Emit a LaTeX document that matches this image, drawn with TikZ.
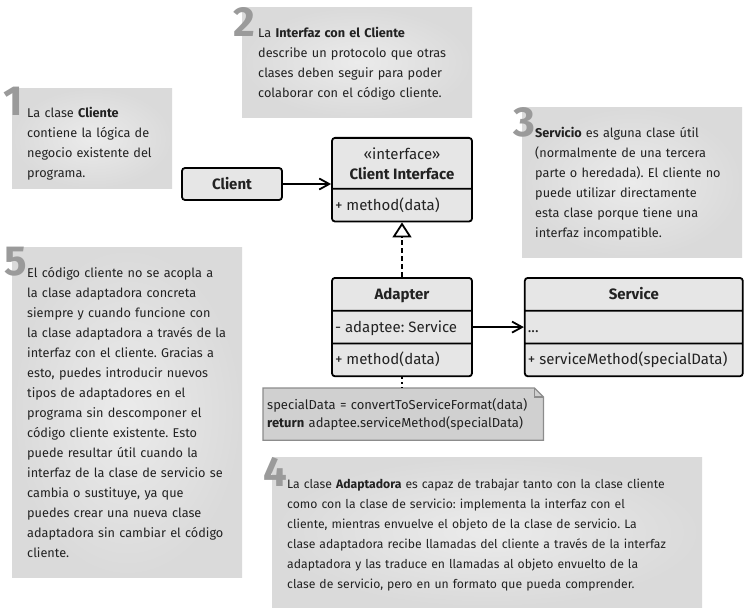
\documentclass[tikz,border=0pt]{standalone}
\usepackage{fontspec}
\setmainfont{Fira Sans}
\usetikzlibrary{positioning,shapes.multipart,arrows.meta,calc,backgrounds}
\frenchspacing

\definecolor{notelight}{HTML}{EBEBEB}
\definecolor{notedark}{HTML}{DADADA}
\definecolor{umlgray}{HTML}{E6E6E6}
\definecolor{codegray}{HTML}{D0D0D0}
\definecolor{codeedge}{HTML}{8C8C8C}
\definecolor{numgray}{HTML}{9A9A9A}
\definecolor{inkgray}{HTML}{222222}

\newcommand\notefont{\fontsize{12.7}{20}\selectfont}
\newcommand\umlfont{\fontsize{15}{20}\selectfont}
\newcommand\codefont{\fontsize{13}{18}\selectfont}
\newcommand\numfont{\fontsize{42}{42}\selectfont\bfseries}
\newcommand\ustrut{\rule[-10.5pt]{0pt}{31pt}}

\begin{document}
\begin{tikzpicture}[x=1pt, y=-1pt, text=inkgray,
    note/.style={shade, shading=radial, inner color=notelight, outer color=notedark,
                 align=left, anchor=north west, inner xsep=15pt, inner ysep=0pt, font=\notefont},
    num/.style={text=numgray, font=\numfont, anchor=north west, inner sep=0pt},
    umlclass/.style={rectangle split, draw=black, line width=1.8pt, rounded corners=3pt,
                     fill=umlgray, font=\umlfont, inner xsep=3pt, inner ysep=0pt},
    assoc/.style={line width=1.8pt, -{Straight Barb[length=10pt,width=11pt]}},
    realize/.style={line width=1.8pt, dash pattern=on 5pt off 3pt,
                    -{Triangle[length=15pt,width=19pt,fill=white,line width=1.8pt]}}]

  \useasboundingbox (0,0) rectangle (746,612);

  % notes
  \node[note, text width=130pt, minimum height=100pt] (note1) at (12,88)
    {\rule{0pt}{21pt}La clase \textbf{Cliente}\\contiene la lógica de\\negocio existente del\\programa.};
  \node[note, inner xsep=16pt, text width=198pt, minimum height=110pt] (note2) at (242,7)
    {\rule{0pt}{13pt}La \textbf{Interfaz con el Cliente}\\describe un protocolo que otras\\clases deben seguir para poder\\colaborar con el código cliente.};
  \node[note, inner xsep=13pt, text width=194pt, minimum height=150pt] (note3) at (522,107)
    {\rule{0pt}{13pt}\textbf{Servicio} es alguna clase útil\\(normalmente de una tercera\\parte o heredada). El cliente no\\puede utilizar directamente\\esta clase porque tiene una\\interfaz incompatible.};
  \node[note, font=\fontsize{12.2}{20}\selectfont, text width=400pt, minimum height=150pt] (note4) at (272,457)
    {\rule{0pt}{15pt}La clase \textbf{Adaptadora} es capaz de trabajar tanto con la clase cliente\\como con la clase de servicio: implementa la interfaz con el\\cliente, mientras envuelve el objeto de la clase de servicio. La\\clase adaptadora recibe llamadas del cliente a través de la interfaz\\adaptadora y las traduce en llamadas al objeto envuelto de la\\clase de servicio, pero en un formato que pueda comprender.};
  \node[note, text width=200pt, minimum height=330pt] (note5) at (12,247)
    {El código cliente no se acopla a\\la clase adaptadora concreta\\siempre y cuando funcione con\\la clase adaptadora a través de la\\interfaz con el cliente. Gracias a\\esto, puedes introducir nuevos\\tipos de adaptadores en el\\programa sin descomponer el\\código cliente existente. Esto\\puede resultar útil cuando la\\interfaz de la clase de servicio se\\cambia o sustituye, ya que\\puedes crear una nueva clase\\adaptadora sin cambiar el código\\cliente.};

  \node[num] (num1) at (3,87) {1};
  \node[num] (num2) at (233,7) {2};
  \node[num] (num3) at (513,107) {3};
  \node[num] (num4) at (263,457) {4};
  \node[num] (num5) at (4,247) {5};

  % classes
  \node[umlclass, rectangle split parts=2, align=center, minimum width=140pt,
        rectangle split part align={center,left}, anchor=north] (iface) at (402,137)
    {\rule{0pt}{21pt}«interface»\\\textbf{Client Interface}\rule[-8pt]{0pt}{8pt}
     \nodepart{second}\ustrut+ method(data)};
  \node[umlclass, rectangle split parts=3, minimum width=140pt,
        rectangle split part align={center,left,left}, anchor=north] (adapter) at (402,277)
    {\ustrut\textbf{Adapter}\nodepart{second}\ustrut- adaptee: Service
     \nodepart{third}\ustrut+ method(data)};
  \node[umlclass, rectangle split parts=3, minimum width=218pt,
        rectangle split part align={center,left,left}, right=51pt of adapter.north east,
        anchor=north west] (service)
    {\ustrut\textbf{Service}\nodepart{second}\ustrut...
     \nodepart{third}\ustrut+ serviceMethod(specialData)};
  \node[draw=black, line width=1.8pt, rounded corners=3pt, fill=umlgray, font=\umlfont\bfseries,
        minimum width=100pt, minimum height=32pt] (client) at (232,184) {Client};

  \node[anchor=north west, align=left, font=\codefont, inner xsep=4pt, inner ysep=10pt,
        text width=272pt] (code) at (263,388)
    {specialData = convertToServiceFormat(data)\\\textbf{return} adaptee.serviceMethod(specialData)};
  \begin{scope}[on background layer]
    \filldraw[fill=codegray, draw=codeedge, line width=1.2pt]
      (code.north west) -- ([xshift=-9pt]code.north east) -- ([yshift=-9pt]code.north east)
      -- (code.south east) -- (code.south west) -- cycle;
    \draw[codeedge, line width=1.2pt] ([xshift=-9pt]code.north east) |- ([yshift=-9pt]code.north east);
  \end{scope}

  % connectors
  \coordinate (adaptee) at ($(adapter.one split east)!0.5!(adapter.two split east)$);
  \draw[assoc] (client.east) -- (client.east -| iface.west);
  \draw[assoc] (adaptee) -- (adaptee -| service.west);
  \draw[realize] (adapter.north) -- (iface.south);
  \draw[line width=1.8pt, dash pattern=on 2pt off 3pt] (adapter.south) -- (adapter.south |- code.north);
\end{tikzpicture}
\end{document}
